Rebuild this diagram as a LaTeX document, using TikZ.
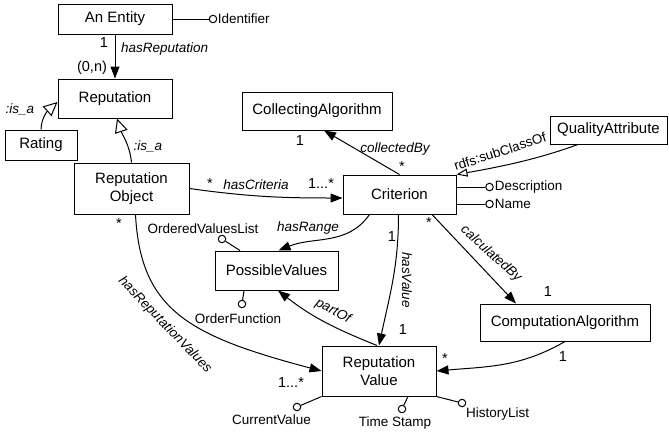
\documentclass[tikz,border=0pt]{standalone}
\usepackage{fontspec}
\setmainfont{Liberation Sans}
\usetikzlibrary{arrows.meta,calc}

\begin{document}
\begin{tikzpicture}[x=1pt,y=1pt,
  cls/.style={draw, line width=1pt, rectangle, inner sep=2pt, align=center,
    font=\fontsize{15}{17.5}\selectfont},
  rel/.style={line width=1pt, -{Triangle[length=12pt,width=9pt]}},
  isa/.style={line width=1pt, -{Triangle[open,length=14pt,width=13pt,fill=white]}},
  subcl/.style={line width=1pt, -{Triangle[open,length=11pt,width=8pt,fill=white]}},
  lbl/.style={font=\fontsize{13.5}{15}\selectfont\itshape, inner sep=0pt},
  plain/.style={font=\fontsize{13.5}{15}\selectfont, inner sep=0pt},
  mult/.style={font=\fontsize{14.5}{16}\selectfont, inner sep=0pt},
  attr/.style={circle, draw, line width=1pt, fill=white, minimum size=7.5pt, inner sep=0pt},
  attrtext/.style={font=\fontsize{13.5}{15}\selectfont, inner sep=0pt},
  link/.style={line width=1pt},
]
\useasboundingbox (0,0) rectangle (669,-434);

% classes
\node[cls, minimum width=114pt, minimum height=30pt] (entity) at (115,-19) {An Entity};
\node[cls, minimum width=114pt, minimum height=39pt] (reputation) at (115,-98.5) {Reputation};
\node[cls, minimum width=72pt, minimum height=30pt] (rating) at (41,-145) {Rating};
\node[cls, minimum width=115pt, minimum height=51pt] (repobj) at (131.5,-188.5) {Reputation\\Object};
\node[cls, minimum width=150pt, minimum height=38pt] (collect) at (317,-111) {CollectingAlgorithm};
\node[cls, minimum width=113pt, minimum height=39pt] (crit) at (399.5,-194.5) {Criterion};
\node[cls, minimum width=117pt, minimum height=28pt] (quality) at (608.5,-130) {QualityAttribute};
\node[cls, minimum width=123pt, minimum height=39pt] (possible) at (276.5,-270.5) {PossibleValues};
\node[cls, minimum width=170pt, minimum height=37pt] (comp) at (565,-322.5) {ComputationAlgorithm};
\node[cls, minimum width=114pt, minimum height=50pt] (repval) at (379,-371) {Reputation\\Value};

% attributes
\node[attr] (identc) at (213,-19) {};
\node[attrtext, anchor=west] (ident) at ($(identc.east)+(0.5,0)$) {Identifier};
\draw[link] (entity.east) -- (identc);

\node[attr] (descc) at (489.5,-187) {};
\node[attrtext, anchor=west] (desc) at ($(descc.east)+(1,0)$) {Description};
\draw[link] ($(crit.east)+(0,7.5)$) -- (descc);

\node[attr] (namec) at (489.5,-204) {};
\node[attrtext, anchor=west] (name) at ($(namec.east)+(1,0)$) {Name};
\draw[link] ($(crit.east)+(0,-9.5)$) -- (namec);

\node[attr] (ordlc) at (222,-239) {};
\node[attrtext] (ordl) at (203,-229) {OrderedValuesList};
\draw[link] ($(possible.north)+(-36.5,0)$) -- (ordlc);

\node[attr] (ordfc) at (242,-304) {};
\node[attrtext] (ordf) at (238,-318.5) {OrderFunction};
\draw[link] ($(possible.south)+(-32.5,0)$) -- (ordfc);

\node[attr] (curc) at (297,-407) {};
\node[attrtext] (cur) at (271.5,-419.5) {CurrentValue};
\draw[link] (repval.south west) -- (curc);

\node[attr] (timec) at (402,-409) {};
\node[attrtext] (time) at (395,-423.5) {Time Stamp};
\draw[link] ($(repval.south)+(29,0)$) -- (timec);

\node[attr] (histc) at (462,-403) {};
\node[attrtext, anchor=west] (hist) at (466,-414.5) {HistoryList};
\draw[link] (repval.south east) -- (histc);

% hasReputation
\draw[rel] (entity.south) -- (reputation.north);
\node[mult] (m1) at (104,-43) {1};
\node[lbl, anchor=west] (l1) at (121,-49) {hasReputation};
\node[mult] (m2) at (92,-68) {(0,n)};

% is_a links
\draw[isa] (rating.north) to[out=88, in=-138] ($(reputation.west)+(0,-3.5)$);
\node[lbl] (l2) at (20,-109) {:is\_a};
\draw[isa] (repobj.north) to[out=96, in=-72] ($(reputation.south)+(2,0)$);
\node[lbl] (l3) at (148,-146.5) {:is\_a};

% hasCriteria
\draw[rel] (repobj.east) to[out=-8, in=180] ($(crit.west)+(0,-3.5)$);
\node[mult] (m3) at (210,-184) {*};
\node[lbl] (l4) at (256,-185) {hasCriteria};
\node[mult] (m4) at (321,-184) {1...*};

% collectedBy
\draw[rel] (crit.north) -- ($(collect.south)+(7,0)$);
\node[mult] (m5) at (300,-140.5) {1};
\node[lbl] (l5) at (395,-149) {collectedBy};
\node[mult] (m6) at (402,-167) {*};

% rdfs:subClassOf
\draw[subcl] ($(quality.south)+(-30.5,0)$) to[out=200, in=10, looseness=0.9] (crit.north east);
\node[plain, rotate=18] (l6) at (500,-151.5) {rdfs:subClassOf};

% hasRange
\draw[rel] ($(crit.south)+(-30,0)$) to[out=-125, in=22] ($(possible.north)+(2,0)$);
\node[lbl] (l7) at (308,-228) {hasRange};

% hasValue
\draw[rel] ($(crit.south)+(-1,0)$) to[out=-90, in=78] (repval.north);
\node[mult] (m7) at (392,-237) {1};
\node[lbl, rotate=-90] (l8) at (407,-280) {hasValue};
\node[mult] (m8) at (403,-330) {1};

% calculatedBy
\draw[rel] ($(crit.south)+(32.5,0)$) -- ($(comp.north)+(-49,0)$);
\node[mult] (m9) at (429,-223) {*};
\node[lbl, rotate=-42] (l9) at (491,-254) {calculatedBy};
\node[mult] (m10) at (548,-292) {1};

% computation result
\draw[rel] (comp.south) to[out=-150, in=5] (repval.east);
\node[mult] (m11) at (563,-357) {1};
\node[mult] (m12) at (445,-359) {*};

% partOf
\draw[rel] ($(repval.north)+(-2,0)$) to[out=158, in=-38] ($(possible.south)+(1.5,0)$);
\node[lbl, rotate=-28] (l10) at (333,-311) {partOf};

% hasReputationValues
\draw[rel] ($(repobj.south)+(4,0)$) .. controls +(5,-96) and +(-132,35) .. (repval.west);
\node[mult] (m13) at (119,-224) {*};
\node[mult] (m14) at (291,-383) {1...*};
\node[lbl, rotate=-46] (l11) at (165,-325) {hasReputationValues};

\end{tikzpicture}
\end{document}
